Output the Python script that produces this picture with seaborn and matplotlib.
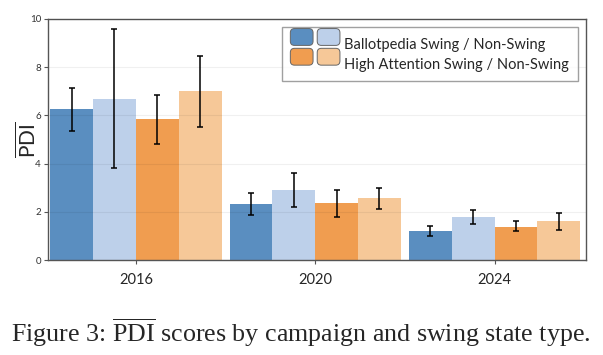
import numpy as np
import pandas as pd
import matplotlib
matplotlib.use("Agg")
import matplotlib.pyplot as plt
import seaborn as sns
from matplotlib.patches import FancyBboxPatch


# =========================
# Data
# =========================

years = ["2016", "2020", "2024"]
groups = ["Ballotpedia Swing", "Ballotpedia Non-Swing",
          "High Attention Swing", "High Attention Non-Swing"]

bp_swing = [6.25, 2.33, 1.21]
bp_nonswing = [6.70, 2.92, 1.79]
ha_swing = [5.83, 2.35, 1.39]
ha_nonswing = [7.00, 2.58, 1.60]

bp_swing_lo = [5.36, 1.86, 1.00]
bp_swing_hi = [7.15, 2.80, 1.40]
bp_nonswing_lo = [3.82, 2.19, 1.49]
bp_nonswing_hi = [9.57, 3.62, 2.07]
ha_swing_lo = [4.80, 1.78, 1.22]
ha_swing_hi = [6.86, 2.92, 1.61]
ha_nonswing_lo = [5.51, 2.13, 1.25]
ha_nonswing_hi = [8.47, 2.99, 1.97]

colors = ["#5a8ec0", "#bdd0ea", "#f09d50", "#f6c898"]
legend_labels = ["Ballotpedia Swing / Non-Swing",
                 "High Attention Swing / Non-Swing"]

means = [bp_swing, bp_nonswing, ha_swing, ha_nonswing]
lows = [bp_swing_lo, bp_nonswing_lo, ha_swing_lo, ha_nonswing_lo]
highs = [bp_swing_hi, bp_nonswing_hi, ha_swing_hi, ha_nonswing_hi]

rows = []
for g, vals in zip(groups, means):
    for yr, v in zip(years, vals):
        rows.append({"year": yr, "group": g, "pdi": v})
df = pd.DataFrame(rows)


# =========================
# Style
# =========================

sns.set_style("white")
plt.rcParams["font.family"] = ["Lato", "DejaVu Sans"]
plt.rcParams["mathtext.fontset"] = "custom"
plt.rcParams["mathtext.rm"] = "Liberation Serif"
plt.rcParams["mathtext.sf"] = "Lato"


# legend handle: two rounded squares side by side
class PairHandler:
    def legend_artist(self, legend, orig_handle, fontsize, handlebox):
        x0, y0 = handlebox.xdescent, handlebox.ydescent
        w, h = handlebox.width, handlebox.height
        gap = 3
        bw = (w - gap) / 2
        p = None
        for i, c in enumerate(orig_handle):
            p = FancyBboxPatch((x0 + i * (bw + gap), y0), bw, h,
                               boxstyle="round,pad=0,rounding_size=3",
                               fc=c, ec="#666666", lw=0.7,
                               transform=handlebox.get_transform())
            handlebox.add_artist(p)
        return p


# =========================
# Plot
# =========================

fig = plt.figure(figsize=(6.03, 3.55), dpi=100)
ax = fig.add_axes([48 / 603, 1 - 260 / 355, 538 / 603, 241 / 355])

sns.barplot(data=df, x="year", y="pdi", hue="group", hue_order=groups,
            palette=colors, width=0.955, saturation=1, errorbar=None,
            legend=False, linewidth=0, edgecolor="none", ax=ax)

for cont, m, lo, hi in zip(ax.containers, means, lows, highs):
    xs = [b.get_x() + b.get_width() / 2 for b in cont]
    m = np.array(m)
    ax.errorbar(xs, m, yerr=[m - np.array(lo), np.array(hi) - m],
                fmt="none", ecolor="black", elinewidth=1.1,
                capsize=2.5, capthick=1.1, zorder=5)

ax.set_ylim(0, 10)
ax.set_yticks([0, 2, 4, 6, 8, 10])
ax.set_xlim(-0.49, 2.51)
ax.set_xlabel("")
ax.set_ylabel(r"$\overline{\mathsf{PDI}}$", fontsize=15)
ax.yaxis.set_label_coords(-0.016, 0.5)

ax.set_axisbelow(False)
ax.yaxis.grid(True, color="black", alpha=0.06, lw=0.8)
for s in ax.spines.values():
    s.set_color("#555555")
    s.set_linewidth(1.0)
ax.tick_params(axis="y", labelsize=7, length=3, color="#555555",
               labelcolor="#333333", left=True, pad=2)
ax.tick_params(axis="x", labelsize=10.5, length=3, color="#555555",
               bottom=True, pad=6)

handles = [(colors[0], colors[1]), (colors[2], colors[3])]
leg = ax.legend(handles, legend_labels, handler_map={tuple: PairHandler()},
                loc="upper right", bbox_to_anchor=(0.985, 0.967),
                borderaxespad=0, fontsize=10.5, handlelength=3.4,
                handleheight=1.4, labelspacing=0.2, handletextpad=0.3,
                borderpad=0.6, fancybox=False, frameon=True)
leg.get_frame().set_edgecolor("#888888")
leg.get_frame().set_linewidth(1.0)

fig.text(0.499, 13 / 355,
         r"Figure 3: $\overline{\mathrm{PDI}}$ scores by campaign and swing state type.",
         ha="center", va="baseline", fontsize=18.7, family="Liberation Serif")

plt.savefig("out.png", dpi=100)
